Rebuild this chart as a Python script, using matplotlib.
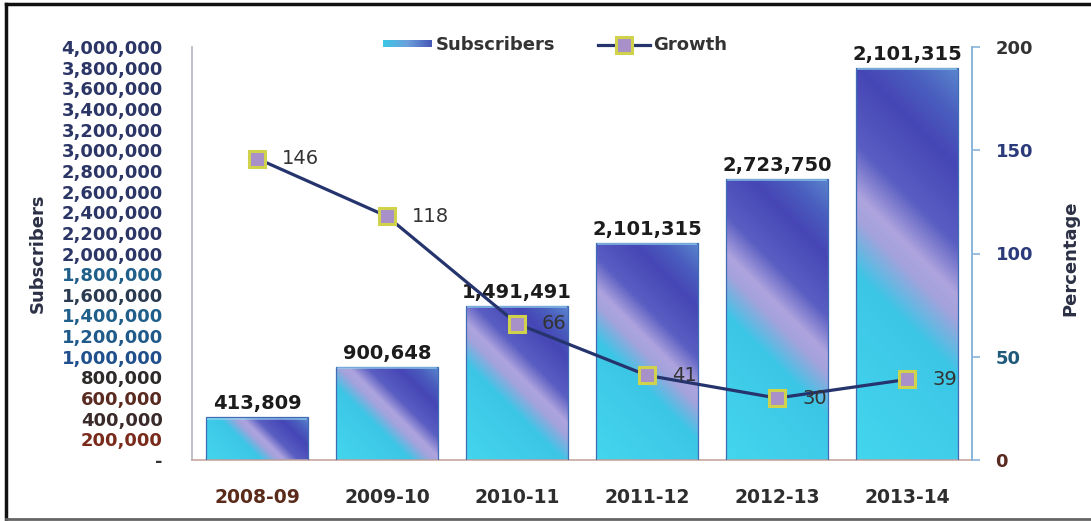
import numpy as np
import matplotlib
matplotlib.use("Agg")
import matplotlib.pyplot as plt
from matplotlib.colors import LinearSegmentedColormap
from matplotlib.lines import Line2D
from matplotlib import font_manager

# ---------------- data ----------------
years = ["2008-09", "2009-10", "2010-11", "2011-12", "2012-13", "2013-14"]
subscribers = [413809, 900648, 1491491, 2101315, 2723750, 3795000]
bar_labels = ["413,809", "900,648", "1,491,491", "2,101,315", "2,723,750", "2,101,315"]
growth = [146, 118, 66, 41, 30, 39]
left_ticks = list(range(0, 4000001, 200000))
right_ticks = [0, 50, 100, 150, 200]

names = {f.name for f in font_manager.fontManager.ttflist}
narrow = [n for n in ["Liberation Sans Narrow", "DejaVu Sans Condensed"] if n in names]
xfam = narrow + ["DejaVu Sans"]

W, H = 1091, 521
fig = plt.figure(figsize=(W / 100, H / 100), dpi=100)
fig.patch.set_facecolor("white")

def fx(px):
    return px / W

def fy(py):
    return 1 - py / H

ax = fig.add_axes([fx(192), fy(460), fx(972) - fx(192), fy(47) - fy(460)])
ax2 = ax.twinx()

x = np.arange(len(years))
bw = 0.78

cmap = LinearSegmentedColormap.from_list(
    "barg",
    [(0.0, "#44d6ee"), (0.38, "#3cc6e6"), (0.49, "#a4a2dc"), (0.54, "#aea4de"),
     (0.64, "#5a5ec2"), (0.8, "#4646b6"), (0.9, "#4a5ebe"), (1.0, "#5a84ce")])

bars = ax.bar(x, subscribers, width=bw, facecolor="none", edgecolor="#3f6cb4",
              linewidth=0.9, zorder=3)
px_per_unit_y = 413 / 4000000
for rect, val in zip(bars, subscribers):
    x0 = rect.get_x()
    x1 = x0 + rect.get_width()
    wpx = 101.0
    hpx = val * px_per_unit_y
    nu, nv = 80, max(40, int(hpx))
    u = np.linspace(0, 1, nu)[None, :]
    v = np.linspace(0, 1, nv)[:, None]
    t = (u * wpx + v * hpx) / (wpx + hpx)
    im = ax.imshow(t, origin="lower", extent=[x0, x1, 0, val], cmap=cmap,
                   vmin=0, vmax=1, aspect="auto", zorder=2, interpolation="bilinear")
    im.set_clip_path(rect)
    ax.plot([x0 + 0.01, x1 - 0.01], [val - 12000] * 2, color="#9ad8f2",
            lw=1.2, alpha=0.7, zorder=3)

ax.set_xlim(-0.5, len(years) - 0.5)
ax.set_ylim(0, 4000000)
ax2.set_ylim(0, 200)

for xi, val, lab in zip(x, subscribers, bar_labels):
    ax.annotate(lab, (xi, val), xytext=(0, 3), textcoords="offset points",
                ha="center", va="bottom", fontsize=14, fontweight="bold",
                color="#1c1c1c", family="DejaVu Sans", zorder=6)

# growth line
ax2.plot(x, growth, color="#26346e", lw=2.3, zorder=5, marker="s", ms=12,
         mfc="#a890c8", mec="#cfd24a", mew=2.2)
for xi, g in zip(x, growth):
    ax2.annotate(str(g), (xi, g), xytext=(18, 0), textcoords="offset points",
                 ha="left", va="center", fontsize=14, color="#333333",
                 family="DejaVu Sans", zorder=6)

# axes styling
ax.set_zorder(1)
ax2.set_zorder(2)
ax2.patch.set_visible(False)
for a in (ax, ax2):
    a.spines["top"].set_visible(False)
ax.spines["left"].set_color("#b4b6c4")
ax.spines["left"].set_linewidth(1.2)
ax.spines["bottom"].set_color("#c8a8a0")
ax.spines["bottom"].set_linewidth(1.2)
ax.spines["right"].set_visible(False)
ax2.spines["left"].set_visible(False)
ax2.spines["bottom"].set_visible(False)
ax2.spines["right"].set_color("#8ab4da")
ax2.spines["right"].set_linewidth(1.4)

ax.set_yticks(left_ticks)
ax.set_yticklabels(["-" if v == 0 else f"{v:,}" for v in left_ticks])
ax.tick_params(axis="y", length=0, pad=21, labelsize=13)
left_colors = {
    0: "#333333", 200000: "#7a2a1a", 400000: "#3a2a2a", 600000: "#5a2a20",
    800000: "#2e2a2a", 1000000: "#1f4f8c", 1200000: "#1f5a8a", 1400000: "#1f5f8a",
    1600000: "#2a3a50", 1800000: "#1f5f8a",
}
for v, lbl in zip(left_ticks, ax.get_yticklabels()):
    lbl.set_fontweight("bold")
    lbl.set_family("DejaVu Sans")
    lbl.set_color(left_colors.get(v, "#2b3566"))

ax.set_xticks(x)
ax.set_xticklabels(years)
ax.tick_params(axis="x", length=0, pad=20)
for i, lbl in enumerate(ax.get_xticklabels()):
    lbl.set_family(xfam)
    lbl.set_fontweight("bold")
    lbl.set_fontsize(13.5)
    lbl.set_color("#5a2a1a" if i == 0 else "#2e2e2e")

ax2.set_yticks(right_ticks)
ax2.tick_params(axis="y", length=6, width=1.2, colors="#8ab4da", pad=11, labelsize=13)
right_colors = {0: "#5a2a20", 50: "#1f5a7a", 100: "#2a3a7a", 150: "#2a3a7a", 200: "#333333"}
for v, lbl in zip(right_ticks, ax2.get_yticklabels()):
    lbl.set_fontweight("bold")
    lbl.set_family("DejaVu Sans")
    lbl.set_color(right_colors[v])

fig.text(fx(38), fy(253), "Subscribers", rotation=90, ha="center", va="center",
         fontsize=13, fontweight="bold", color="#2b3045")
fig.text(fx(1070), fy(258), "Percentage", rotation=90, ha="center", va="center",
         fontsize=13, fontweight="bold", color="#2b3045")

# legend
lax = fig.add_axes([fx(383), fy(50), fx(432) - fx(383), fy(40) - fy(50)])
grad = np.linspace(0, 1, 60)[None, :]
lcm = LinearSegmentedColormap.from_list("lg", ["#3cc6e6", "#6ca0dc", "#4658b8"])
lax.imshow(grad, cmap=lcm, aspect="auto", extent=[0, 1, 0, 1])
lax.set_axis_off()
fig.text(fx(436), fy(45), "Subscribers", ha="left", va="center", fontsize=13,
         fontweight="bold", color="#333333")
fig.add_artist(Line2D([fx(598), fx(650)], [fy(45), fy(45)], color="#26346e", lw=2.3,
                      transform=fig.transFigure))
fig.add_artist(Line2D([fx(624)], [fy(45)], marker="s", ms=11, mfc="#a890c8",
                      mec="#cfd24a", mew=2.2, transform=fig.transFigure))
fig.text(fx(653), fy(45), "Growth", ha="left", va="center", fontsize=13,
         fontweight="bold", color="#333333")

# outer frame
fig.add_artist(Line2D([fx(6), fx(6)], [fy(4), fy(519)], color="#111111", lw=2.5,
                      transform=fig.transFigure))
fig.add_artist(Line2D([fx(6), 1], [fy(4), fy(4)], color="#111111", lw=2.5,
                      transform=fig.transFigure))
fig.add_artist(Line2D([fx(6), 1], [fy(519), fy(519)], color="#666666", lw=2,
                      transform=fig.transFigure))

fig.savefig("out.png", dpi=100, facecolor="white")
